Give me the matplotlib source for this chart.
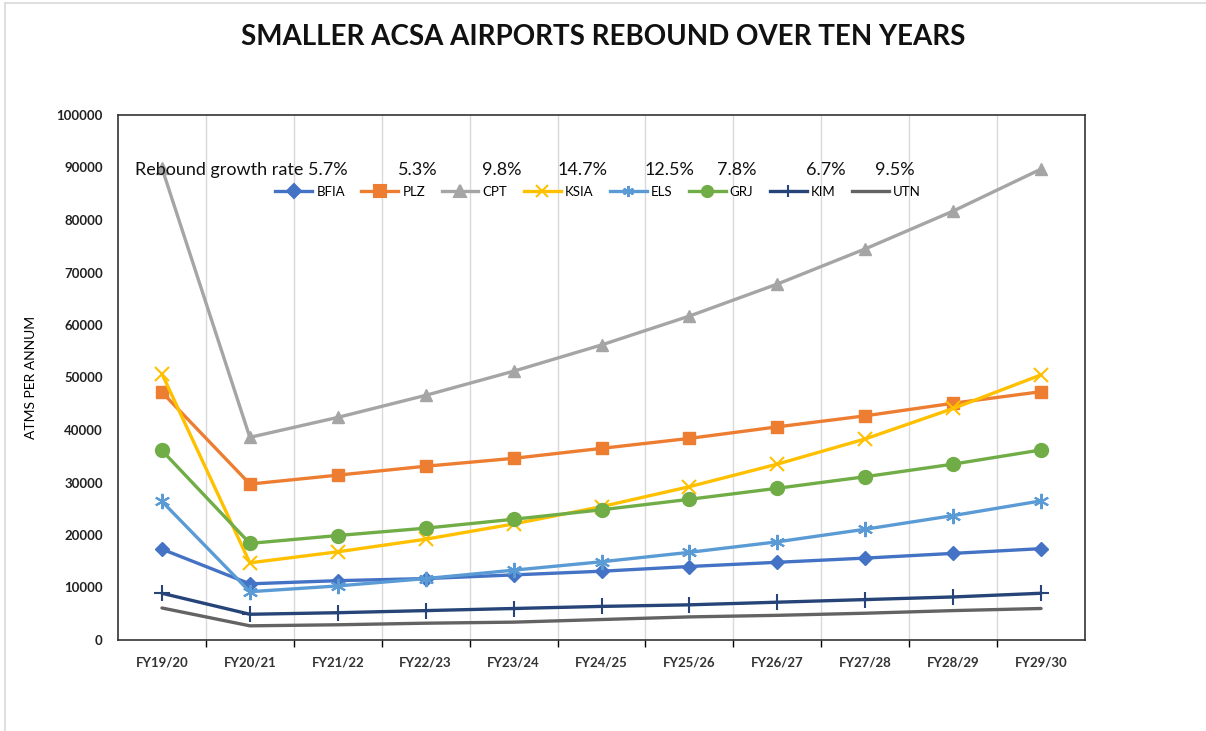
import matplotlib
matplotlib.use("Agg")
import matplotlib.pyplot as plt
from matplotlib.lines import Line2D

plt.rcParams['font.family'] = ['Lato', 'DejaVu Sans']

years = ["FY19/20", "FY20/21", "FY21/22", "FY22/23", "FY23/24", "FY24/25",
         "FY25/26", "FY26/27", "FY27/28", "FY28/29", "FY29/30"]

bfia = [17300, 10700, 11300, 11700, 12400, 13100, 14000, 14800, 15600, 16500, 17400]
plz = [47200, 29700, 31400, 33100, 34600, 36500, 38400, 40600, 42700, 45100, 47300]
cpt = [89900, 38600, 42400, 46600, 51200, 56200, 61700, 67800, 74500, 81700, 89700]
ksia = [50700, 14700, 16800, 19200, 22100, 25400, 29200, 33500, 38300, 44100, 50500]
els = [26400, 9200, 10300, 11700, 13300, 14900, 16700, 18700, 21100, 23700, 26500]
grj = [36100, 18400, 19900, 21300, 23000, 24800, 26800, 28900, 31100, 33500, 36200]
kim = [8900, 4900, 5200, 5600, 6000, 6400, 6700, 7200, 7700, 8200, 8900]
utn = [6100, 2700, 2900, 3200, 3400, 3900, 4400, 4700, 5100, 5600, 6000]

series = [
    ("BFIA", bfia, "#4472C4", "D", 7),
    ("PLZ", plz, "#ED7D31", "s", 9),
    ("CPT", cpt, "#A5A5A5", "^", 9),
    ("KSIA", ksia, "#FFC000", "x", 10),
    ("ELS", els, "#5B9BD5", (6, 2, 0), 11),
    ("GRJ", grj, "#70AD47", "o", 10),
    ("KIM", kim, "#264478", "+", 11),
    ("UTN", utn, "#636363", None, 0),
]

# growth rates shown above the legend (first one is glued to the label)
rates = ["5.3%", "9.8%", "14.7%", "12.5%", "7.8%", "6.7%", "9.5%"]
rate_x = [398, 482, 558, 645, 717, 806, 875]

fig = plt.figure(figsize=(12.06, 7.31), dpi=100)
ax = fig.add_axes([118/1206, 1-640/731, (1085-118)/1206, (640-115)/731])

x = list(range(len(years)))
for name, vals, col, mk, ms in series:
    ax.plot(x, vals, color=col, lw=2.4, marker=mk, markersize=ms,
            markeredgewidth=1.5 if mk in ("x", "+", (6, 2, 0)) else 1,
            label=name, solid_capstyle='round', zorder=3)

ax.set_xlim(-0.5, len(years) - 0.5)
ax.set_ylim(0, 100000)
ax.set_yticks(range(0, 100001, 10000))
ax.set_yticklabels([str(v) for v in range(0, 100001, 10000)],
                   fontsize=9.5, fontweight='bold', color='#222222')
ax.tick_params(axis='y', length=0, pad=11)

ax.set_xticks(x)
ax.set_xticklabels(years, fontsize=9.5, fontweight='bold', color='#333333')
ax.set_xticks([i + 0.5 for i in x[:-1]], minor=True)
ax.tick_params(axis='x', which='major', length=0, pad=12)
ax.tick_params(axis='x', which='minor', length=5, width=1, direction='out')
ax.grid(axis='x', which='minor', color='#D9D9D9', lw=1, zorder=0)

for s in ax.spines.values():
    s.set_color('#333333')
    s.set_linewidth(1.2)

ax.set_ylabel("ATMS PER ANNUM", fontsize=10, labelpad=14)

fig.text(0.5, 1-37/731, "SMALLER ACSA AIRPORTS REBOUND OVER TEN YEARS",
         ha='center', va='center', fontsize=20, fontweight='bold', color='#111111')

fig.text(135/1206, 1-170/731, "Rebound growth rate 5.7%", fontsize=13,
         va='center', ha='left', color='#111111')
for r, px in zip(rates, rate_x):
    fig.text(px/1206, 1-170/731, r, fontsize=13, va='center', ha='left', color='#111111')

handles = [Line2D([], [], color=c, lw=2.4, marker=m, markersize=min(ms, 8),
                  markeredgewidth=1.5) for _, _, c, m, ms in series]
ax.legend(handles, [s[0] for s in series], loc='center', ncol=8,
          bbox_to_anchor=((598-118)/967, 1-(192-115)/525), frameon=False,
          fontsize=9.5, handlelength=2.8, columnspacing=1.25, handletextpad=0.3)

# outer chart-area border (top and left)
fig.add_artist(Line2D([5/1206, 1], [1-3/731, 1-3/731], color='#D9D9D9', lw=1.2))
fig.add_artist(Line2D([5/1206, 5/1206], [0, 1-3/731], color='#D9D9D9', lw=1.2))

fig.savefig("out.png", dpi=100)
